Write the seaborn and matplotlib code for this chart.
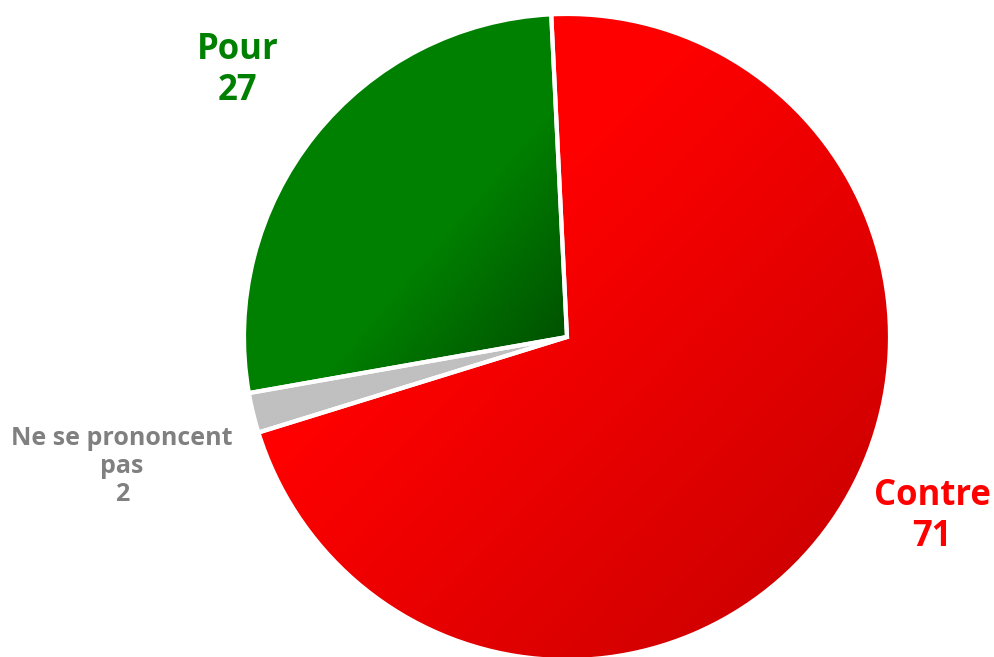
import numpy as np
import matplotlib
matplotlib.use("Agg")
import matplotlib.pyplot as plt
import seaborn as sns
from matplotlib.colors import LinearSegmentedColormap

# ---------- Data ----------
labels = ["Contre", "Ne se prononcent\npas", "Pour"]
values = [71, 2, 27]
colors = ["#FF0000", "#C0C0C0", "#008000"]
dark_colors = ["#C40000", "#C0C0C0", "#004800"]
text_colors = ["#FF0000", "#808080", "#008000"]

sns.set_theme(style="white")
plt.rcParams["font.family"] = ["Open Sans", "DejaVu Sans"]

fig = plt.figure(figsize=(9.95, 6.57), dpi=100)
ax = fig.add_axes([0, 0, 1, 1])

wedges, _ = ax.pie(
    values,
    colors=colors,
    startangle=92.8,
    counterclock=False,
    wedgeprops=dict(edgecolor="white", linewidth=3),
)

# shading per wedge: flat colour, darkening toward the lower-right of each slice
stops = [0.35, 0.6, 0.6]
for w, c0, c1, s in zip(wedges, colors, dark_colors, stops):
    ext = w.get_path().get_extents()
    x0, y0, x1, y1 = ext.x0, ext.y0, ext.x1, ext.y1
    yy, xx = np.mgrid[y1:y0:300j, x0:x1:300j]
    t = ((xx - x0) / (x1 - x0) + (y1 - yy) / (y1 - y0)) / 2
    cmap = LinearSegmentedColormap.from_list("g", [(0, c0), (s, c0), (1, c1)])
    im = ax.imshow(t, extent=[x0, x1, y0, y1], cmap=cmap, vmin=0, vmax=1,
                   zorder=w.get_zorder() - 0.1, interpolation="bilinear")
    im.set_clip_path(w)
    w.set_facecolor("none")

# ---------- Labels ----------
ax.text(-1.019, 0.825, "Pour\n27", color=text_colors[2], fontsize=25,
        fontweight="bold", ha="center", va="center", linespacing=1.2)
ax.text(1.130, -0.555, "Contre\n71", color=text_colors[0], fontsize=25,
        fontweight="bold", ha="center", va="center", linespacing=1.2)
ax.text(-1.378, -0.400, "Ne se prononcent\npas\n2", color=text_colors[1],
        fontsize=18, fontweight="bold", ha="center", va="center", linespacing=1.15)

ax.set_xlim(-567 / 323, (995 - 567) / 323)
ax.set_ylim(-(657 - 337) / 323, 337 / 323)
ax.set_aspect("equal")
ax.axis("off")

fig.savefig("out.png", dpi=100)
